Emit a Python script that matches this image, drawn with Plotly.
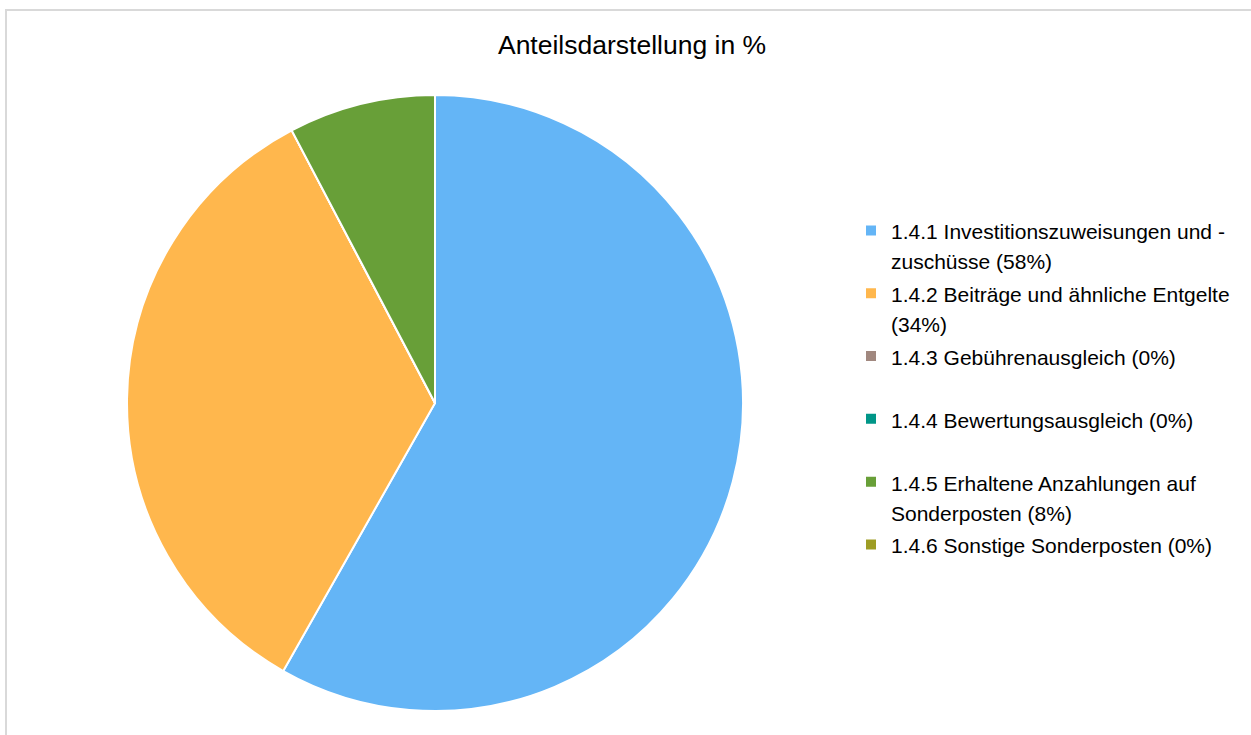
import plotly.graph_objects as go

title_text = "Anteilsdarstellung in %"
categories = [
    "1.4.1 Investitionszuweisungen und -<br>zuschüsse (58%)",
    "1.4.2 Beiträge und ähnliche Entgelte<br>(34%)",
    "1.4.3 Gebührenausgleich (0%)<br> ",
    "1.4.4 Bewertungsausgleich (0%)<br> ",
    "1.4.5 Erhaltene Anzahlungen auf<br>Sonderposten (8%)",
    "1.4.6 Sonstige Sonderposten (0%)<br> ",
]
values = [58.2, 34.1, 0.0, 0.0, 7.7, 0.0]
colors = ["#64B5F6", "#FFB74D", "#A1887F", "#009688", "#689F38", "#9E9D24"]

legend_labels = [
    "<br>".join('<span style="font-size:21px">' + part + "</span>" for part in c.split("<br>"))
    for c in categories
]

fig = go.Figure()
fig.add_trace(go.Pie(
    labels=legend_labels,
    values=values,
    sort=False,
    direction="clockwise",
    rotation=0,
    textinfo="none",
    hoverinfo="label",
    marker=dict(colors=colors, line=dict(color="white", width=2)),
    domain=dict(x=[127/1251, 743/1251], y=[1-711/735, 1-95/735]),
))

fig.update_layout(
    width=1251, height=735,
    margin=dict(l=0, r=0, t=0, b=0),
    paper_bgcolor="white",
    plot_bgcolor="white",
    font=dict(family="Liberation Sans, Arial, sans-serif", color="#000000"),
    title=dict(text=title_text, x=632/1251, xanchor="center", y=1-45/735, yanchor="middle",
               font=dict(size=26.5, family="Liberation Sans, Arial, sans-serif", color="#000000")),
    legend=dict(x=851/1251, xanchor="left", y=1-209/735, yanchor="top",
                font=dict(size=23, family="Liberation Sans, Arial, sans-serif", color="#000000"),
                valign="top", bgcolor="rgba(0,0,0,0)"),
    shapes=[dict(type="rect", xref="paper", yref="paper",
                 x0=6/1251, x1=1.02, y0=-0.02, y1=1-10/735,
                 line=dict(color="#d9d9d9", width=2), fillcolor="rgba(0,0,0,0)", layer="below")],
)

fig.write_html(
    "out.html",
    config={"displayModeBar": False},
    post_script="document.body.style.margin='0';document.body.style.overflow='hidden';",
)
